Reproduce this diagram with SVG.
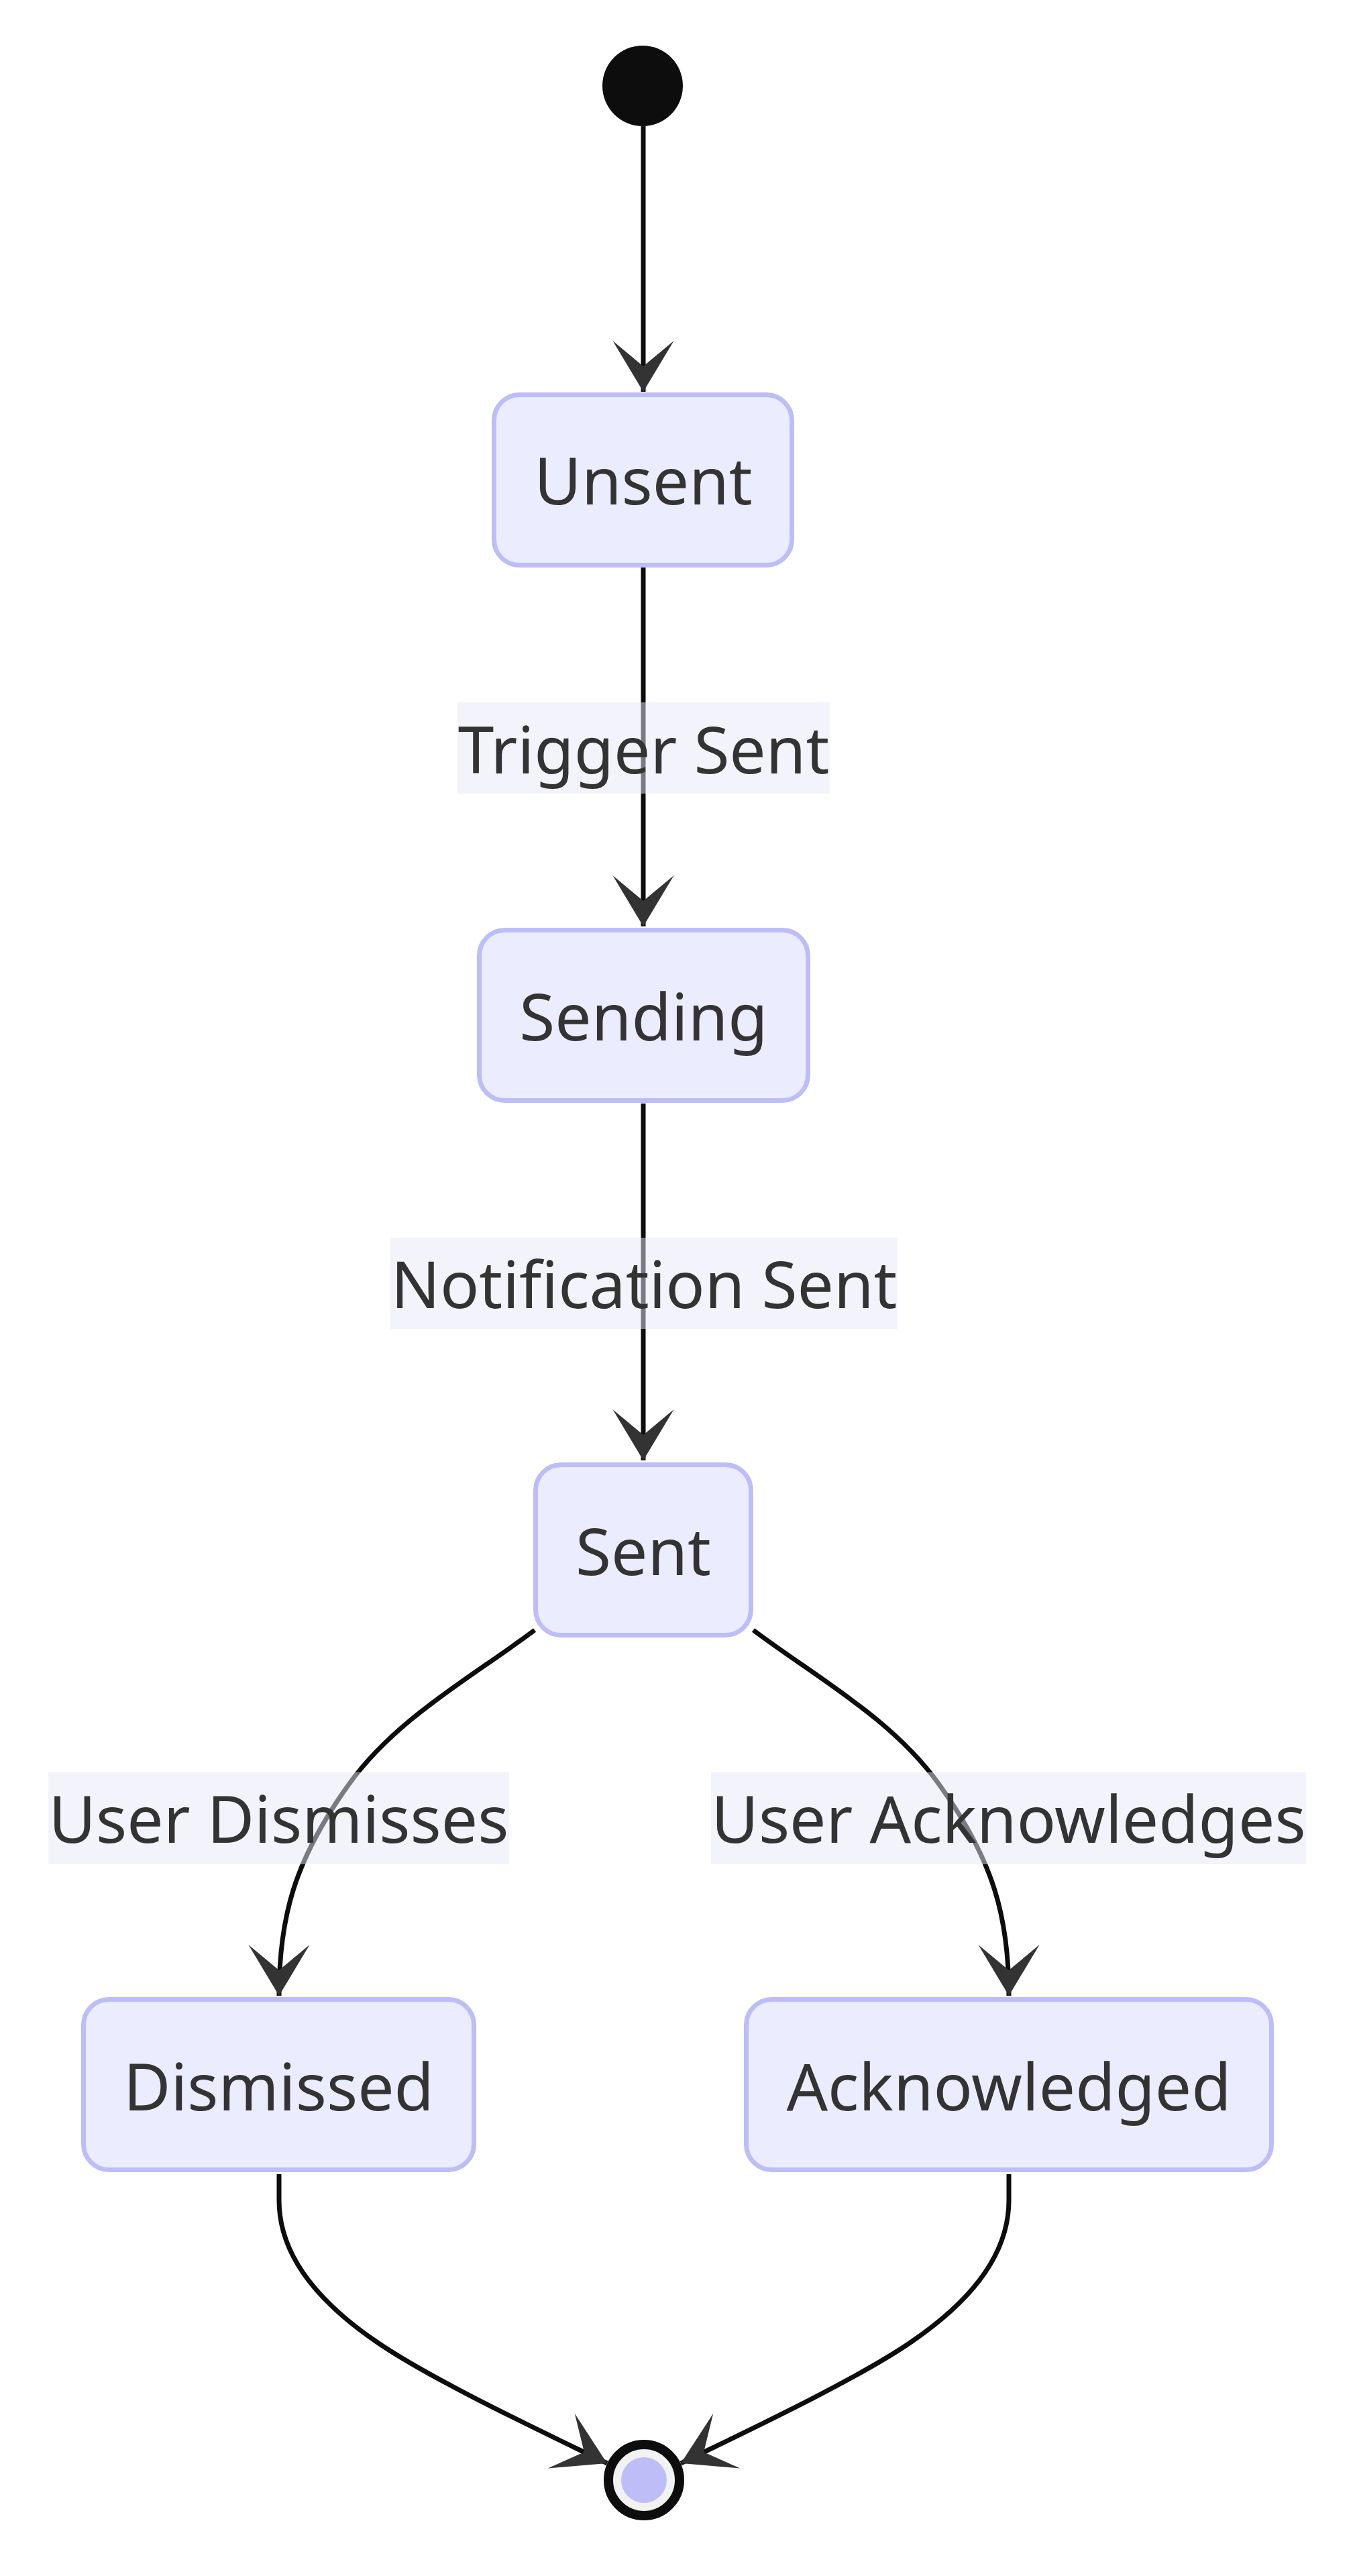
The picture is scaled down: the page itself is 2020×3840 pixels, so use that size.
<svg xmlns="http://www.w3.org/2000/svg" width="2020" height="3840" viewBox="0 0 2020 3840">
<defs>
<style>
.node rect{fill:#ececff;stroke:#bdbdf8;stroke-width:7}
.lbl{font-family:"Noto Sans","Open Sans","Liberation Sans",sans-serif;font-size:96.5px;fill:#333;text-anchor:middle}
.edge{fill:none;stroke:#0d0d0d;stroke-width:7;marker-end:url(#arrow)}
.lblbg{fill:#e8e8f8;opacity:0.5}
</style>
<marker id="arrow" viewBox="0 0 20 14" refX="19" refY="7" markerWidth="152" markerHeight="106.4" markerUnits="userSpaceOnUse" orient="auto">
<path d="M19,7 L9,13 L14,7 L9,1 Z" fill="#333"/>
</marker>
</defs>
<rect width="2020" height="3840" fill="#fff"/>
<g id="connectors">
<path class="edge" d="M959,188 L959,584"/>
<path class="edge" d="M959,846 L959,1381"/>
<path class="edge" d="M959,1645 L959,2177"/>
<path class="edge" d="M797,2430 C701,2502 590,2562 520,2660 C438,2774 416,2860 416,2975"/>
<path class="edge" d="M1123,2430 C1219,2502 1330,2562 1400,2660 C1482,2774 1504,2860 1504,2975"/>
<path class="edge" d="M416,3241 L416,3280 C416,3370 486,3439 560,3490 C642,3547 815,3628 905,3672"/>
<path class="edge" d="M1504,3241 L1504,3280 C1504,3370 1434,3439 1360,3490 C1278,3547 1105,3628 1015,3672"/>
</g>
<g id="edge-labels">
<g id="label-trigger-sent"><rect class="lblbg" x="682" y="1047" width="555" height="136"/><text class="lbl" x="959.5" y="1153">Trigger Sent</text></g>
<g id="label-notification-sent"><rect class="lblbg" x="582" y="1845" width="756" height="136"/><text class="lbl" x="960" y="1950">Notification Sent</text></g>
<g id="label-user-dismisses"><rect class="lblbg" x="72" y="2642" width="687" height="137"/><text class="lbl" x="415.5" y="2747">User Dismisses</text></g>
<g id="label-user-acknowledges"><rect class="lblbg" x="1060" y="2642" width="887" height="137"/><text class="lbl" x="1503.5" y="2747">User Acknowledges</text></g>
</g>
<g id="start"><circle cx="958" cy="128" r="60" fill="#0d0d0d"/></g>
<g id="unsent" class="node"><rect x="736.5" y="588.5" width="444" height="254" rx="38"/><text class="lbl" x="959" y="752">Unsent</text></g>
<g id="sending" class="node"><rect x="714.5" y="1386.5" width="490" height="254" rx="38"/><text class="lbl" x="959.5" y="1551">Sending</text></g>
<g id="sent" class="node"><rect x="798.5" y="2183.5" width="321" height="254" rx="38"/><text class="lbl" x="959" y="2348">Sent</text></g>
<g id="dismissed" class="node"><rect x="124.5" y="2980.5" width="582" height="254" rx="38"/><text class="lbl" x="415.5" y="3146">Dismissed</text></g>
<g id="acknowledged" class="node"><rect x="1112.5" y="2980.5" width="783" height="254" rx="38"/><text class="lbl" x="1504" y="3146">Acknowledged</text></g>
<g id="end"><circle cx="960" cy="3697" r="53" fill="#f2f2f2" stroke="#0d0d0d" stroke-width="14"/><circle cx="960" cy="3697" r="34" fill="#bdbdf8"/></g>
</svg>
